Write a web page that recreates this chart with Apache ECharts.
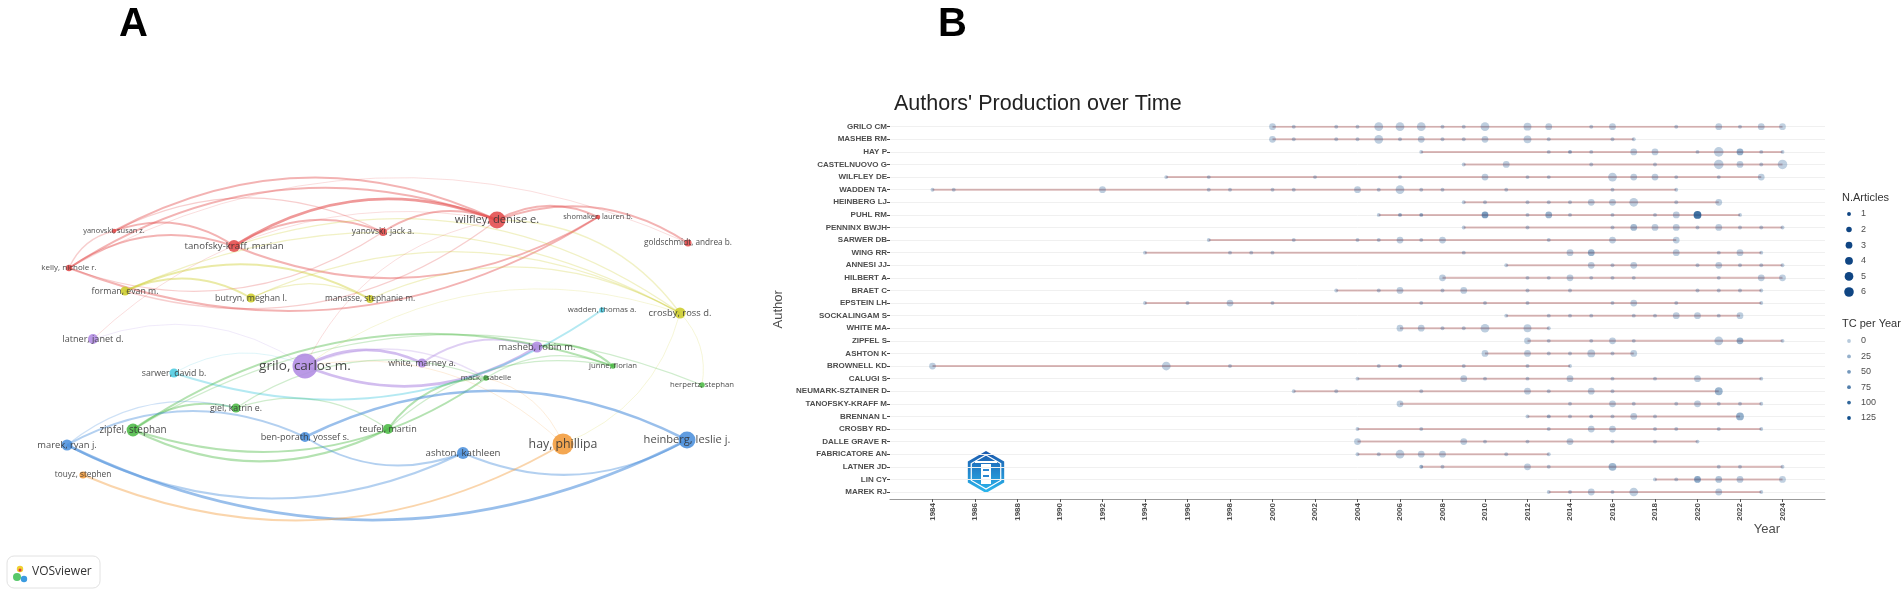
<!DOCTYPE html>
<html lang="en">
<head>
<meta charset="UTF-8" />
<script src="https://cdn.jsdelivr.net/npm/echarts@6/dist/echarts.min.js"></script>
<title>Co-authorship network and authors' production over time</title>
<style>
  html, body { margin: 0; padding: 0; background: #fff; }
  #chart { width: 1902px; height: 595px; }
</style>
</head>
<body>
<div id="chart"></div>
<script>
// ---------- panel A : VOSviewer co-authorship map ----------
const nodeIds = ['grilo', 'wilfley', 'heinberg', 'hay', 'tanofsky', 'ashton', 'zipfel', 'crosby', 'masheb', 'white',
  'latner', 'marek', 'benporath', 'butryn', 'forman', 'teufel', 'sarwer', 'giel', 'manasse', 'yanovskiJ',
  'kelly', 'yanovskiS', 'shomaker', 'goldschmidt', 'wadden', 'junne', 'herpertz', 'mack', 'touyz'];
const nodeLabels = ['grilo, carlos m.', 'wilfley, denise e.', 'heinberg, leslie j.', 'hay, phillipa', 'tanofsky-kraff, marian',
  'ashton, kathleen', 'zipfel, stephan', 'crosby, ross d.', 'masheb, robin m.', 'white, marney a.',
  'latner, janet d.', 'marek, ryan j.', 'ben-porath, yossef s.', 'butryn, meghan l.', 'forman, evan m.',
  'teufel, martin', 'sarwer, david b.', 'giel, katrin e.', 'manasse, stephanie m.', 'yanovski, jack a.',
  'kelly, nichole r.', 'yanovski, susan z.', 'shomaker, lauren b.', 'goldschmidt, andrea b.', 'wadden, thomas a.',
  'junne, florian', 'herpertz, stephan', 'mack, isabelle', 'touyz, stephen'];
// cluster: 1 red, 2 green, 3 blue, 4 yellow, 5 purple, 6 cyan, 7 orange
const nodeCluster = [5, 1, 3, 7, 1, 3, 2, 4, 5, 5, 5, 3, 3, 4, 4, 2, 6, 2, 4, 1, 1, 1, 1, 1, 6, 2, 2, 2, 7];
// map coordinates (VOSviewer layout units)
const nodeX = [-0.55, 1.37, 3.27, 2.03, -1.26, 1.03, -2.27, 3.20, 1.77, 0.62, -2.67, -2.93, -0.55, -1.09, -2.35,
  0.28, -1.86, -1.24, 0.10, 0.23, -2.91, -2.46, 2.38, 3.28, 2.42, 2.53, 3.42, 1.26, -2.77];
const nodeY = [-0.06, 1.40, -0.80, -0.84, 1.14, -0.93, -0.70, 0.47, 0.13, -0.03, 0.21, -0.85, -0.77, 0.62, 0.69,
  -0.69, -0.13, -0.48, 0.61, 1.28, 0.92, 1.29, 1.43, 1.17, 0.50, -0.06, -0.25, -0.18, -1.15];
const nodeDocs = [61, 28, 28, 43, 14, 14, 16, 12, 12, 8, 10, 12, 10, 8, 8, 10, 8, 8, 6, 6, 4, 2, 2, 5, 3, 3, 3, 3, 5];
// links: source, target, strength, colour taken from 's'ource or 't'arget
const links = [
  ['kelly', 'yanovskiS', 1, 's'], ['kelly', 'tanofsky', 2, 's'], ['kelly', 'wilfley', 2, 's'],
  ['yanovskiS', 'tanofsky', 2, 's'], ['yanovskiS', 'wilfley', 2, 's'], ['yanovskiS', 'yanovskiJ', 1, 's'],
  ['tanofsky', 'wilfley', 3, 's'], ['tanofsky', 'yanovskiJ', 2, 's'], ['yanovskiJ', 'wilfley', 2, 's'],
  ['wilfley', 'shomaker', 2, 's'], ['wilfley', 'goldschmidt', 2, 's'], ['shomaker', 'kelly', 2, 's'],
  ['shomaker', 'tanofsky', 2, 's'], ['yanovskiJ', 'kelly', 1, 's'], ['wilfley', 'forman', 1, 's'],
  ['kelly', 'goldschmidt', 0.5, 's'], ['latner', 'wilfley', 0.5, 't'], ['tanofsky', 'crosby', 1, 't'],
  ['forman', 'butryn', 2, 's'], ['forman', 'manasse', 2, 's'], ['butryn', 'manasse', 1, 's'],
  ['butryn', 'crosby', 1, 's'], ['manasse', 'crosby', 1, 's'], ['forman', 'crosby', 1, 's'],
  ['wilfley', 'crosby', 1, 't'], ['crosby', 'herpertz', 0.5, 's'], ['crosby', 'hay', 0.5, 's'],
  ['grilo', 'white', 3, 's'], ['masheb', 'grilo', 3, 's'], ['white', 'masheb', 2, 's'],
  ['grilo', 'mack', 1, 's'], ['latner', 'grilo', 0.5, 's'],
  ['wadden', 'sarwer', 2, 's'], ['sarwer', 'grilo', 0.5, 's'],
  ['zipfel', 'giel', 2, 's'], ['teufel', 'zipfel', 2, 's'], ['mack', 'zipfel', 2, 's'],
  ['zipfel', 'junne', 2, 's'], ['zipfel', 'herpertz', 1, 's'], ['giel', 'teufel', 1, 's'],
  ['giel', 'mack', 1, 's'], ['teufel', 'mack', 2, 's'], ['teufel', 'junne', 1, 's'],
  ['masheb', 'junne', 2, 't'], ['mack', 'junne', 1, 's'],
  ['heinberg', 'marek', 3, 's'], ['ashton', 'marek', 2, 's'], ['marek', 'benporath', 2, 's'],
  ['benporath', 'heinberg', 3, 's'], ['heinberg', 'ashton', 2, 's'], ['ashton', 'benporath', 2, 's'],
  ['marek', 'giel', 1, 's'],
  ['hay', 'touyz', 2, 's'], ['grilo', 'hay', 0.5, 't'], ['mack', 'hay', 0.5, 't'],
  ['grilo', 'wilfley', 0.5, 't'], ['grilo', 'crosby', 0.5, 't']
];

// ---------- panel B : authors' production over time ----------
const authors = ['GRILO CM', 'MASHEB RM', 'HAY P', 'CASTELNUOVO G', 'WILFLEY DE', 'WADDEN TA', 'HEINBERG LJ',
  'PUHL RM', 'PENNINX BWJH', 'SARWER DB', 'WING RR', 'ANNESI JJ', 'HILBERT A', 'BRAET C', 'EPSTEIN LH',
  'SOCKALINGAM S', 'WHITE MA', 'ZIPFEL S', 'ASHTON K', 'BROWNELL KD', 'CALUGI S', 'NEUMARK-SZTAINER D',
  'TANOFSKY-KRAFF M', 'BRENNAN L', 'CROSBY RD', 'DALLE GRAVE R', 'FABRICATORE AN', 'LATNER JD', 'LIN CY', 'MAREK RJ'];
const pubYears = [
  [2000, 2001, 2003, 2004, 2005, 2006, 2007, 2008, 2009, 2010, 2012, 2013, 2015, 2016, 2019, 2021, 2022, 2023, 2024],
  [2000, 2001, 2003, 2004, 2005, 2006, 2007, 2008, 2009, 2010, 2012, 2013, 2016, 2017],
  [2007, 2013, 2014, 2015, 2017, 2018, 2020, 2021, 2022, 2023, 2024],
  [2009, 2011, 2015, 2018, 2021, 2022, 2023, 2024],
  [1995, 1997, 2002, 2006, 2010, 2012, 2013, 2016, 2017, 2018, 2019, 2021, 2023],
  [1984, 1985, 1992, 1997, 1998, 2000, 2001, 2004, 2005, 2006, 2007, 2008, 2011, 2016, 2019],
  [2009, 2010, 2012, 2013, 2014, 2015, 2016, 2017, 2019, 2021],
  [2005, 2006, 2007, 2010, 2012, 2013, 2014, 2016, 2018, 2019, 2020, 2022],
  [2009, 2012, 2016, 2017, 2018, 2019, 2020, 2021, 2022, 2023, 2024],
  [1997, 2001, 2004, 2005, 2006, 2007, 2008, 2013, 2016, 2019],
  [1994, 1998, 1999, 2000, 2009, 2014, 2015, 2019, 2021, 2022, 2023],
  [2011, 2015, 2016, 2017, 2020, 2021, 2022, 2023, 2024],
  [2008, 2012, 2013, 2014, 2015, 2016, 2017, 2021, 2023, 2024],
  [2003, 2005, 2006, 2008, 2009, 2012, 2014, 2020, 2021, 2022, 2023],
  [1994, 1996, 1998, 2000, 2007, 2010, 2012, 2016, 2017, 2019, 2023],
  [2011, 2013, 2014, 2015, 2017, 2018, 2019, 2020, 2021, 2022],
  [2006, 2007, 2008, 2009, 2010, 2012, 2013],
  [2012, 2013, 2015, 2016, 2017, 2021, 2022, 2024],
  [2010, 2012, 2013, 2014, 2015, 2016, 2017],
  [1984, 1995, 1998, 2005, 2006, 2009, 2012, 2014],
  [2004, 2009, 2010, 2012, 2014, 2016, 2018, 2020, 2023],
  [2001, 2003, 2007, 2012, 2013, 2015, 2016, 2021],
  [2006, 2014, 2016, 2017, 2019, 2020, 2021, 2022, 2023],
  [2012, 2013, 2014, 2015, 2016, 2017, 2018, 2022],
  [2004, 2007, 2013, 2015, 2016, 2018, 2019, 2021, 2023],
  [2004, 2009, 2010, 2012, 2014, 2016, 2018, 2020],
  [2004, 2005, 2006, 2007, 2008, 2011, 2013],
  [2007, 2008, 2012, 2013, 2016, 2021, 2022, 2024],
  [2018, 2019, 2020, 2021, 2022, 2024],
  [2013, 2014, 2015, 2016, 2017, 2021, 2023]
];
const pubCounts = [
  [3, 1, 1, 1, 5, 5, 5, 1, 1, 5, 4, 3, 1, 3, 1, 3, 1, 3, 3],
  [3, 1, 1, 1, 5, 1, 3, 1, 1, 3, 4, 1, 1, 1],
  [1, 1, 1, 1, 3, 3, 1, 6, 3, 1, 1],
  [1, 3, 1, 1, 6, 3, 1, 6],
  [1, 1, 1, 1, 3, 1, 1, 5, 3, 3, 1, 1, 3],
  [1, 1, 3, 1, 1, 1, 1, 3, 1, 5, 1, 1, 1, 1, 1],
  [1, 1, 1, 1, 1, 3, 3, 5, 1, 3],
  [1, 1, 1, 3, 1, 3, 1, 1, 1, 3, 4, 1],
  [1, 1, 1, 3, 3, 3, 1, 3, 1, 1, 1],
  [1, 1, 1, 1, 3, 1, 3, 1, 3, 3],
  [1, 1, 1, 1, 1, 3, 3, 3, 1, 3, 1],
  [1, 3, 1, 3, 1, 3, 1, 1, 1],
  [3, 1, 1, 3, 1, 1, 1, 1, 3, 3],
  [1, 1, 3, 1, 3, 1, 1, 1, 1, 1, 1],
  [1, 1, 3, 1, 1, 1, 1, 1, 3, 1, 1],
  [1, 1, 1, 1, 1, 1, 3, 3, 1, 3],
  [3, 3, 1, 1, 5, 4, 1],
  [3, 1, 1, 3, 1, 5, 3, 1],
  [3, 3, 1, 1, 4, 1, 3],
  [3, 5, 1, 1, 1, 1, 1, 1],
  [1, 3, 1, 1, 3, 1, 1, 3, 1],
  [1, 1, 1, 3, 1, 3, 1, 4],
  [3, 1, 3, 1, 1, 3, 1, 1, 1],
  [1, 1, 1, 1, 1, 3, 1, 4],
  [1, 1, 1, 3, 3, 1, 1, 1, 1],
  [3, 3, 1, 1, 3, 1, 1, 1],
  [1, 1, 5, 3, 3, 1, 1],
  [1, 1, 3, 1, 4, 1, 1, 1],
  [1, 1, 3, 3, 3, 3],
  [1, 1, 3, 1, 5, 3, 1]
];
// total citations per year
const pubTC = [
  [8, 8, 8, 8, 8, 8, 8, 8, 8, 8, 8, 8, 8, 8, 8, 8, 8, 8, 4],
  [8, 8, 8, 8, 8, 8, 8, 8, 8, 8, 8, 8, 8, 8],
  [8, 8, 35, 8, 8, 8, 8, 8, 45, 8, 8],
  [8, 8, 8, 8, 8, 8, 8, 5],
  [8, 8, 8, 8, 8, 8, 8, 8, 8, 8, 8, 8, 8],
  [8, 8, 8, 8, 8, 8, 8, 8, 8, 8, 8, 8, 8, 8, 8],
  [8, 8, 8, 8, 8, 8, 8, 8, 8, 8],
  [8, 35, 40, 70, 8, 40, 8, 8, 8, 10, 125, 8],
  [8, 8, 8, 30, 8, 8, 8, 8, 8, 8, 8],
  [8, 8, 8, 8, 8, 8, 8, 8, 8, 8],
  [8, 8, 8, 8, 8, 8, 40, 8, 8, 8, 8],
  [8, 8, 8, 8, 8, 8, 8, 8, 8],
  [8, 8, 8, 8, 8, 8, 8, 8, 8, 5],
  [8, 8, 8, 8, 8, 8, 8, 8, 8, 8, 8],
  [8, 8, 8, 8, 8, 8, 8, 8, 8, 8, 8],
  [8, 8, 8, 8, 8, 8, 8, 8, 8, 8],
  [8, 8, 8, 8, 8, 8, 8],
  [8, 8, 8, 8, 8, 8, 40, 8],
  [8, 8, 8, 8, 8, 8, 8],
  [8, 8, 8, 8, 35, 8, 8, 8],
  [8, 8, 8, 8, 8, 8, 8, 8, 8],
  [8, 8, 8, 8, 8, 8, 8, 40],
  [8, 8, 8, 8, 8, 8, 8, 8, 8],
  [8, 30, 8, 30, 8, 8, 8, 45],
  [8, 8, 8, 8, 8, 8, 8, 8, 8],
  [8, 8, 8, 8, 8, 8, 8, 8],
  [8, 8, 8, 8, 8, 8, 8],
  [40, 8, 8, 8, 35, 8, 8, 8],
  [8, 8, 55, 20, 10, 4],
  [8, 8, 8, 8, 8, 8, 8]
];
const yearTicks = [1984, 1986, 1988, 1990, 1992, 1994, 1996, 1998, 2000, 2002, 2004, 2006, 2008, 2010,
  2012, 2014, 2016, 2018, 2020, 2022, 2024];
const articleLegend = [1, 2, 3, 4, 5, 6];
const tcLegend = [0, 25, 50, 75, 100, 125];

const clusterColors = ['#999', '#e24b4b', '#4cb946', '#4b8fdc', '#cccc2a', '#b08be2', '#4ccbe0', '#f39b3a'];
const sansB = '"Liberation Sans", Arial, sans-serif';
const sansA = '"Open Sans", "Noto Sans", sans-serif';
const alphaOf = (tc) => 0.3 + 0.7 * Math.min(tc, 125) / 125;
const dotSize = (n) => 3.9 * Math.sqrt(n);

const chart = echarts.init(document.getElementById('chart'), null, { renderer: 'canvas' });

const graphNodes = nodeIds.map((id, i) => ({
  name: id,
  value: [nodeX[i], nodeY[i]],
  symbolSize: 3.2 * Math.sqrt(nodeDocs[i]),
  itemStyle: { color: clusterColors[nodeCluster[i]], opacity: 0.88 },
  label: { formatter: nodeLabels[i], fontSize: 6.1 + 0.95 * Math.sqrt(nodeDocs[i]) }
}));
const graphLinks = links.map(([s, t, w, c]) => ({
  source: s,
  target: t,
  lineStyle: {
    color: clusterColors[nodeCluster[nodeIds.indexOf(c === 't' ? t : s)]],
    width: 0.6 + 0.7 * w,
    opacity: 0.12 + 0.15 * w
  }
}));

const prodLines = authors.map((a, i) => ({
  type: 'line',
  xAxisIndex: 0,
  yAxisIndex: 0,
  silent: true,
  clip: false,
  symbol: 'none',
  z: 2,
  data: [[pubYears[i][0], a], [pubYears[i][pubYears[i].length - 1], a]],
  lineStyle: { color: 'rgba(139,26,26,0.3)', width: 2 }
}));

const dots = [];
authors.forEach((a, i) => {
  pubYears[i].forEach((y, j) => dots.push([y, a, pubCounts[i][j], pubTC[i][j]]));
});

const legendGraphics = [];
legendGraphics.push({ type: 'text', x: 1842, y: 198, style: { text: 'N.Articles', font: '11px ' + sansB, fill: '#333', verticalAlign: 'middle' } });
articleLegend.forEach((n, i) => {
  const cy = 214 + i * 15.6;
  legendGraphics.push({ type: 'circle', shape: { cx: 1849, cy: cy, r: dotSize(n) / 2 }, style: { fill: '#0f4583' } });
  legendGraphics.push({ type: 'text', x: 1861, y: cy, style: { text: String(n), font: '9px ' + sansB, fill: '#4d4d4d', verticalAlign: 'middle' } });
});
legendGraphics.push({ type: 'text', x: 1842, y: 324, style: { text: 'TC per Year', font: '11px ' + sansB, fill: '#333', verticalAlign: 'middle' } });
tcLegend.forEach((v, i) => {
  const cy = 341 + i * 15.4;
  legendGraphics.push({ type: 'circle', shape: { cx: 1849, cy: cy, r: 1.9 }, style: { fill: 'rgba(16,78,139,' + alphaOf(v) + ')' } });
  legendGraphics.push({ type: 'text', x: 1861, y: cy, style: { text: String(v), font: '9px ' + sansB, fill: '#4d4d4d', verticalAlign: 'middle' } });
});

// hexagon badge in panel B
const hex = (cx, cy, r) => [0, 1, 2, 3, 4, 5].map((k) => {
  const a = Math.PI / 180 * (60 * k - 90);
  return [cx + r * Math.cos(a), cy + r * Math.sin(a)];
});

const option = {
  animation: false,
  backgroundColor: '#fff',
  title: {
    text: "Authors' Production over Time",
    left: 889,
    top: 88,
    textStyle: { fontFamily: sansB, fontSize: 21.5, fontWeight: 'normal', color: '#222' }
  },
  grid: [
    { left: 890, right: 77, top: 126.7, bottom: 103 },
    { left: 0, top: 0, width: 720, height: 595 }
  ],
  xAxis: [
    {
      gridIndex: 0,
      type: 'value',
      min: 1982,
      max: 2026,
      interval: 2,
      offset: 7,
      axisLine: { show: true, lineStyle: { color: '#9a9a9a', width: 1.2 } },
      axisTick: { show: true, length: 3, customValues: yearTicks, lineStyle: { color: '#555' } },
      axisLabel: {
        customValues: yearTicks,
        formatter: (v) => String(v),
        rotate: 90,
        margin: 4,
        fontSize: 8,
        fontWeight: 'bold',
        fontFamily: sansB,
        color: '#4d4d4d'
      },
      splitLine: { show: false }
    },
    { gridIndex: 1, type: 'value', min: -3.6, max: 3.6, show: false }
  ],
  yAxis: [
    {
      gridIndex: 0,
      type: 'category',
      data: authors,
      inverse: true,
      boundaryGap: false,
      name: 'Author',
      nameLocation: 'middle',
      nameRotate: 90,
      nameGap: 105,
      nameTextStyle: { fontFamily: sansB, fontSize: 13, color: '#4d4d4d' },
      axisLine: { show: false },
      axisTick: { show: true, length: 3, lineStyle: { color: '#444' } },
      axisLabel: { margin: 3, fontSize: 8, fontWeight: 'bold', fontFamily: sansB, color: '#4d4d4d', interval: 0 },
      splitLine: { show: true, lineStyle: { color: '#f0f0f0', width: 1 } }
    },
    { gridIndex: 1, type: 'value', min: -2.35, max: 3.6, show: false }
  ],
  series: [
    {
      type: 'graph',
      coordinateSystem: 'cartesian2d',
      xAxisIndex: 1,
      yAxisIndex: 1,
      symbol: 'circle',
      data: graphNodes,
      links: graphLinks,
      lineStyle: { curveness: 0.25 },
      label: {
        show: true,
        position: 'inside',
        fontFamily: sansA,
        color: '#333'
      },
      silent: true,
      z: 3
    },
    ...prodLines,
    {
      type: 'scatter',
      xAxisIndex: 0,
      yAxisIndex: 0,
      data: dots,
      clip: false,
      z: 4,
      symbolSize: (val) => dotSize(val[2]),
      itemStyle: { color: (p) => 'rgba(16,78,139,' + alphaOf(p.value[3]) + ')' }
    }
  ],
  graphic: [
    { type: 'text', x: 119, y: 5, style: { text: 'A', font: 'bold 40px ' + sansB, fill: '#000' } },
    { type: 'text', x: 938, y: 5, style: { text: 'B', font: 'bold 40px ' + sansB, fill: '#000' } },
    // VOSviewer badge
    { type: 'rect', shape: { x: 7, y: 556, width: 93, height: 32, r: 7 }, style: { fill: '#fff', stroke: '#e2e2e2', lineWidth: 1 } },
    { type: 'circle', shape: { cx: 17, cy: 577, r: 4 }, style: { fill: '#58c86a' } },
    { type: 'circle', shape: { cx: 24, cy: 579, r: 3.2 }, style: { fill: '#3a9be0' } },
    { type: 'circle', shape: { cx: 20, cy: 569, r: 3.2 }, style: { fill: '#f0d030' } },
    { type: 'circle', shape: { cx: 20, cy: 570, r: 1.5 }, style: { fill: '#e03a3a' } },
    { type: 'text', x: 32, y: 572, style: { text: 'VOSviewer', font: '12px ' + sansA, fill: '#333', verticalAlign: 'middle' } },
    // axis title
    { type: 'text', x: 1767, y: 529, style: { text: 'Year', font: '13px ' + sansB, fill: '#4d4d4d', align: 'center', verticalAlign: 'middle' } },
    // badge
    {
      type: 'polygon',
      shape: { points: hex(986, 472, 21) },
      style: {
        fill: new echarts.graphic.LinearGradient(0, 0, 0, 1, [
          { offset: 0, color: '#1b58ad' },
          { offset: 1, color: '#2bb8ee' }
        ])
      }
    },
    { type: 'polygon', shape: { points: hex(986, 472, 17) }, style: { fill: 'none', stroke: '#fff', lineWidth: 1.2 } },
    { type: 'rect', shape: { x: 975, y: 461, width: 22, height: 2 }, style: { fill: '#fff' } },
    { type: 'rect', shape: { x: 981, y: 464, width: 10, height: 20 }, style: { fill: '#fff' } },
    { type: 'rect', shape: { x: 983, y: 469, width: 6, height: 2 }, style: { fill: '#2a86d0' } },
    { type: 'rect', shape: { x: 983, y: 475, width: 6, height: 2 }, style: { fill: '#2a86d0' } },
    ...legendGraphics
  ]
};

chart.setOption(option);
</script>
</body>
</html>
